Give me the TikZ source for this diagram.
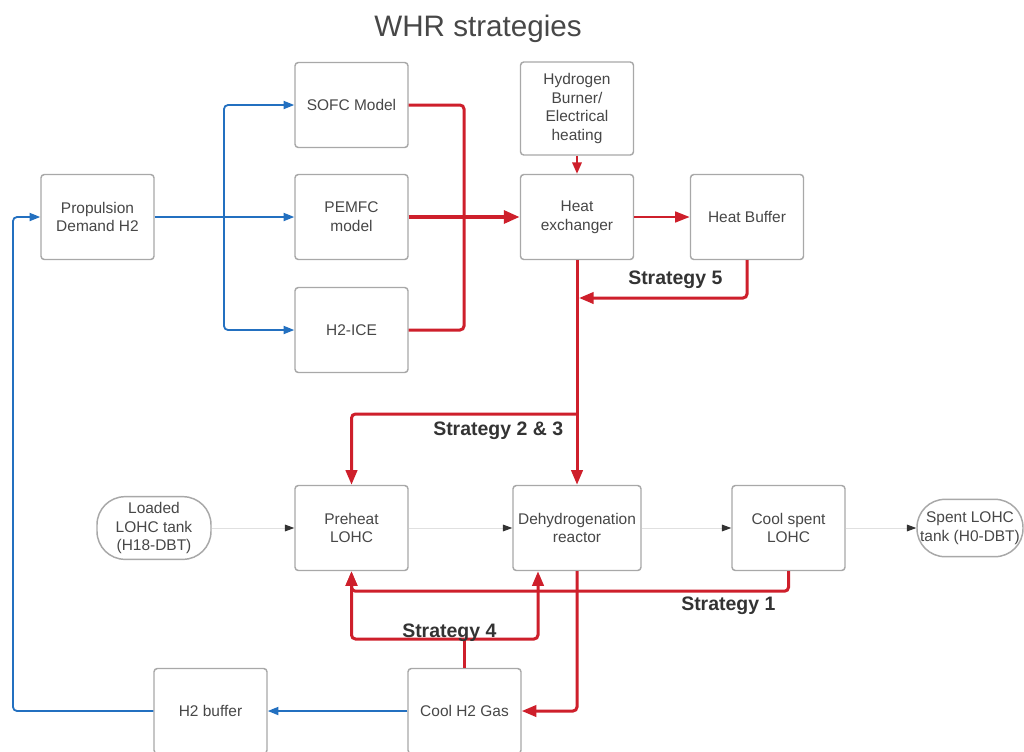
\documentclass[tikz,border=0pt]{standalone}
\usepackage{fontspec}
\setmainfont{Liberation Sans}
\usetikzlibrary{arrows.meta,calc}

\definecolor{flowred}{HTML}{CE1F2B}
\definecolor{flowblue}{HTML}{2370C0}
\definecolor{boxline}{HTML}{A8A8A8}
\definecolor{boxtext}{HTML}{474747}
\definecolor{labeltext}{HTML}{333333}
\definecolor{feedline}{HTML}{E0E0E0}
\definecolor{feedtip}{HTML}{333333}

\begin{document}
\begin{tikzpicture}[x=0.75pt,y=-0.75pt,
  block/.style={draw=boxline, line width=1.1pt, rounded corners=2.5pt, fill=white,
    text=boxtext, align=center, font=\fontsize{11.6}{14}\selectfont,
    inner sep=0pt, minimum width=84.75pt, minimum height=63.75pt},
  tank/.style={block, rounded corners=21pt, minimum height=47pt},
  redline/.style={draw=flowred, line width=2.25pt, rounded corners=3pt},
  redflow/.style={redline, -{Triangle[length=11pt,width=8.5pt]}},
  redthick/.style={draw=flowred, line width=3.2pt, -{Triangle[length=12pt,width=9.5pt]}},
  redthin/.style={draw=flowred, line width=1.6pt, -{Triangle[length=8.5pt,width=7pt]}},
  redmid/.style={draw=flowred, line width=1.9pt, -{Triangle[length=11pt,width=8pt]}},
  blueflow/.style={draw=flowblue, line width=1.35pt, rounded corners=3pt,
    -{Triangle[length=8pt,width=6pt]}},
  feed/.style={draw=feedline, line width=0.75pt,
    -{Triangle[length=7pt,width=5pt,color=feedtip]}},
  strat/.style={font=\bfseries\fontsize{14.6}{17}\selectfont, text=labeltext,
    inner sep=0pt, anchor=base west}
]
\useasboundingbox (0,0) rectangle (1024,751);
\clip (0,0) rectangle (1024,751);
\fill[white] (0,0) rectangle (1024,751);

% title
\node[font=\fontsize{22.2}{26}\selectfont, text=boxtext, anchor=base] (title) at (478,36) {WHR strategies};

% upper section: hydrogen consumers and heat recovery
\node[block] (prop)   at (97.5,217)   {Propulsion\\Demand H2};
\node[block] (sofc)   at (351.5,105)  {SOFC Model};
\node[block] (pemfc)  at (351.5,217)  {PEMFC\\model};
\node[block] (ice)    at (351.5,330)  {H2-ICE};
\node[block, minimum height=69.75pt] (burner) at (577,108.5) {Hydrogen\\Burner/\\Electrical\\heating};
\node[block] (hx)     at (577,217)    {Heat\\exchanger};
\node[block] (hb)     at (747,217)    {Heat Buffer};

% lower section: LOHC line
\node[tank, minimum width=85.5pt] (loaded) at (154,528) {Loaded\\LOHC tank\\(H18-DBT)};
\node[block] (preheat)  at (351.5,528) {Preheat\\LOHC};
\node[block, minimum width=96pt] (dehydro) at (577,528) {Dehydrogenation\\reactor};
\node[block] (coolspent) at (788.5,528) {Cool spent\\LOHC};
\node[tank, minimum width=79.5pt, minimum height=43pt] (spent) at (970,528) {Spent LOHC\\tank (H0-DBT)};
\node[block] (h2buf)  at (210.5,711) {H2 buffer};
\node[block] (coolh2) at (464.5,711) {Cool H2 Gas};

% junction points
\coordinate (bj)  at (224,217);
\coordinate (mj)  at (464,217);
\coordinate (s5)  at (579,298);
\coordinate (b23) at (577,414);
\coordinate (s4)  at (464.5,639);
\coordinate (ret) at (13,711);

% LOHC feed line
\draw[feed] (loaded.east) -- (preheat.west);
\draw[feed] (preheat.east) -- (dehydro.west);
\draw[feed] (dehydro.east) -- (coolspent.west);
\draw[feed] (coolspent.east) -- (spent.west);

% hydrogen supply (blue)
\draw[blueflow] (prop.east) -- (pemfc.west);
\draw[blueflow] (bj) |- (sofc.west);
\draw[blueflow] (bj) |- (ice.west);
\draw[blueflow] (coolh2.west) -- (h2buf.east);
\draw[blueflow] (h2buf.west) -- (ret) |- (prop.west);

% waste heat collection
\draw[redline] (sofc.east) -| (mj);
\draw[redline] (ice.east) -| (mj);
\draw[redthick] (pemfc.east) -- (hx.west);
\draw[redthin] (burner.south) -- (hx.north);
\draw[redmid] (hx.east) -- (hb.west);

% strategy 5
\draw[redflow] (hb.south) |- (s5);

% strategies 2 & 3
\draw[redflow] (hx.south) -- (dehydro.north);
\draw[redflow] (b23) -| (preheat.north);

% strategy 1
\draw[redflow] (coolspent.south) |- ($(preheat.south)+(0,20)$) -- (preheat.south);

% hydrogen gas cooling and strategy 4
\draw[redflow] (dehydro.south) |- (coolh2.east);
\draw[redline] (coolh2.north) -- (s4);
\draw[redflow] (s4) -| (preheat.south);
\draw[redflow] (s4) -| ($(dehydro.south)+(-39,0)$);

% strategy labels
\node[strat] (l5)  at (628,284) {Strategy 5};
\node[strat] (l23) at (433,435) {Strategy 2 \& 3};
\node[strat] (l1)  at (681,610) {Strategy 1};
\node[strat] (l4)  at (402,637) {Strategy 4};
\end{tikzpicture}
\end{document}
